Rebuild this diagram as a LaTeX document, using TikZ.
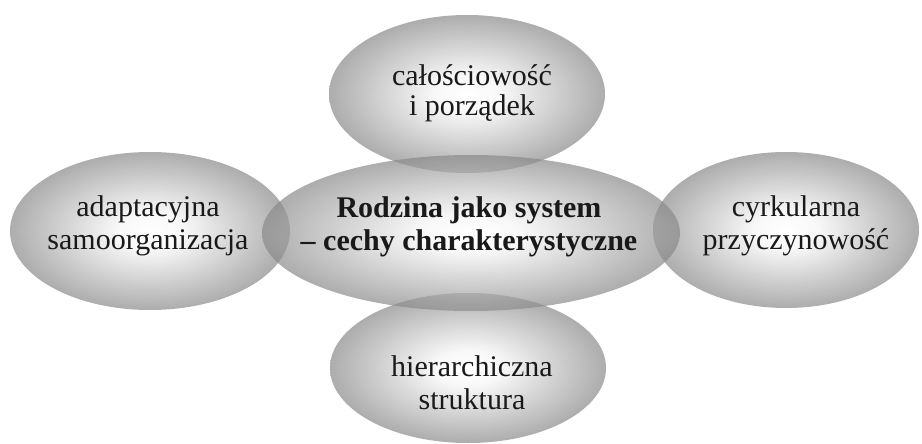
\documentclass[tikz,border=0pt]{standalone}
\usepackage{fontspec}
\setmainfont{Liberation Serif}
\usetikzlibrary{shapes.geometric}
\pgfdeclareradialshading{ellshade}{\pgfpoint{0bp}{0bp}}{color(0bp)=(white); color(6bp)=(white!96!black); color(25bp)=(black!46); color(50bp)=(black!46)}
\tikzset{
  blob/.style={ellipse, draw=none, shading=ellshade, opacity=0.7, inner sep=0pt},
  lbl/.style={anchor=base, inner sep=0pt, text=black!90, font=\fontsize{30}{32}\selectfont},
  blbl/.style={lbl, font=\fontsize{30}{32}\selectfont\bfseries}
}
\begin{document}
\begin{tikzpicture}[x=1pt,y=-1pt]
\useasboundingbox (0,0) rectangle (922,444);
\node[blob, minimum width=280pt, minimum height=158pt] (L) at (150,231) {};
\node[blob, minimum width=266pt, minimum height=156pt] (R) at (786,230) {};
\node[blob, minimum width=276pt, minimum height=158pt] (T) at (467,94) {};
\node[blob, minimum width=276pt, minimum height=150pt] (B) at (468,368) {};
\node[blob, minimum width=418pt, minimum height=156pt] (C) at (471,233) {};
% texts
\node[lbl] (t1) at (472,85) {całościowość};
\node[lbl] (t2) at (472,115) {i porządek};
\node[lbl] (l1) at (148,216) {adaptacyjna};
\node[lbl] (l2) at (148,249) {samoorganizacja};
\node[lbl] (r1) at (796,216) {cyrkularna};
\node[lbl] (r2) at (796,249) {przyczynowość};
\node[blbl] (c1) at (469,217) {Rodzina jako system};
\node[blbl] (c2) at (469,250) {– cechy charakterystyczne};
\node[lbl] (b1) at (472,376) {hierarchiczna};
\node[lbl] (b2) at (472,409) {struktura};
\end{tikzpicture}
\end{document}
